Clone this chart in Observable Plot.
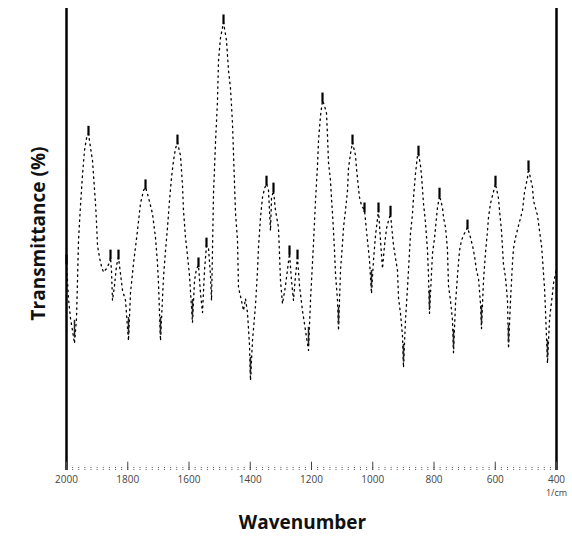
<!DOCTYPE html>
<html>
<head>
<meta charset="utf-8">
<script src="https://cdn.jsdelivr.net/npm/d3@7"></script>
<script src="https://cdn.jsdelivr.net/npm/@observablehq/plot@0.6"></script>
<style>
  html, body { margin: 0; padding: 0; background: #fff; }
  #chart { width: 572px; height: 542px; }
</style>
</head>
<body>
<div id="chart"></div>
<script>
const wavenumber = [
  2000, 1993.5, 1986.9, 1980.4, 1973.9, 1967.3, 1964.1, 1960.8, 1954.3, 1947.8,
  1941.2, 1934.7, 1928.2, 1921.6, 1915.1, 1911.8, 1905.3, 1902.0, 1898.8, 1892.2,
  1885.7, 1879.2, 1869.4, 1859.6, 1856.3, 1853.1, 1849.8, 1843.3, 1836.7, 1830.2,
  1823.7, 1817.1, 1807.3, 1797.6, 1791.0, 1781.2, 1768.2, 1758.4, 1748.6, 1742.0,
  1732.2, 1719.2, 1709.4, 1702.9, 1699.6, 1693.1, 1683.3, 1676.7, 1670.2, 1663.7,
  1657.1, 1650.6, 1644.1, 1637.6, 1627.8, 1621.2, 1618.0, 1611.4, 1604.9, 1598.4,
  1588.6, 1582.0, 1575.5, 1569.0, 1562.4, 1555.9, 1549.4, 1542.9, 1536.3, 1529.8,
  1526.5, 1523.3, 1520.0, 1516.7, 1513.5, 1506.9, 1503.7, 1497.1, 1487.3, 1477.6,
  1471.0, 1464.5, 1461.2, 1458.0, 1454.7, 1451.4, 1448.2, 1441.6, 1438.4, 1428.6,
  1422.0, 1415.5, 1409.0, 1402.4, 1399.2, 1392.7, 1382.9, 1376.3, 1373.1, 1366.5,
  1360.0, 1353.5, 1346.9, 1340.4, 1333.9, 1330.6, 1324.1, 1317.6, 1307.8, 1301.2,
  1294.7, 1284.9, 1271.8, 1265.3, 1258.8, 1252.2, 1245.7, 1239.2, 1229.4, 1219.6,
  1209.8, 1203.3, 1193.5, 1186.9, 1180.4, 1177.1, 1170.6, 1164.1, 1157.6, 1151.0,
  1147.8, 1144.5, 1138.0, 1134.7, 1131.4, 1128.2, 1124.9, 1121.6, 1115.1, 1111.8,
  1105.3, 1098.8, 1095.5, 1089.0, 1082.4, 1079.2, 1072.7, 1066.1, 1056.3, 1053.1,
  1049.8, 1043.3, 1036.7, 1026.9, 1020.4, 1010.6, 1004.1, 997.6, 991.0, 981.2,
  974.7, 968.2, 961.6, 955.1, 948.6, 942.0, 935.5, 932.2, 919.2, 915.9,
  909.4, 902.9, 899.6, 893.1, 886.5, 883.3, 876.7, 870.2, 866.9, 860.4,
  853.9, 850.6, 844.1, 840.8, 837.6, 834.3, 827.8, 821.2, 818.0, 814.7,
  804.9, 798.4, 791.8, 788.6, 782.0, 772.2, 769.0, 762.4, 759.2, 755.9,
  752.7, 746.1, 739.6, 736.3, 729.8, 723.3, 716.7, 710.2, 703.7, 690.6,
  680.8, 674.3, 667.8, 661.2, 654.7, 648.2, 644.9, 638.4, 631.8, 625.3,
  622.0, 615.5, 609.0, 599.2, 589.4, 586.1, 579.6, 576.3, 573.1, 566.5,
  560.0, 556.7, 550.2, 543.7, 540.4, 533.9, 524.1, 511.0, 504.5, 494.7,
  491.4, 484.9, 478.4, 475.1, 462.0, 455.5, 449.0, 445.7, 442.4, 439.2,
  435.9, 429.4, 422.9, 419.6, 413.1, 409.8, 403.3, 400
];
const transmittance = [
  45.0, 37.2, 32.9, 30.3, 27.5, 32.9, 41.1, 49.8, 57.4, 63.9,
  69.3, 71.9, 72.9, 69.9, 67.1, 63.9, 57.8, 53.7, 48.7, 46.1,
  44.2, 42.9, 43.7, 45.0, 46.1, 43.3, 36.8, 40.0, 44.4, 46.1,
  42.6, 39.0, 36.8, 28.1, 38.5, 44.8, 51.9, 57.8, 60.6, 61.3,
  59.1, 55.6, 50.4, 44.8, 40.5, 28.1, 41.8, 47.6, 52.6, 58.4,
  63.4, 67.1, 69.7, 71.0, 68.2, 61.7, 56.3, 50.4, 46.5, 42.2,
  32.0, 41.1, 43.7, 44.4, 38.3, 34.2, 43.3, 48.7, 48.1, 42.2,
  36.8, 47.6, 60.0, 65.4, 71.0, 80.1, 88.7, 93.7, 97.0, 93.1,
  86.6, 82.7, 79.0, 75.1, 68.6, 62.1, 55.8, 49.8, 39.6, 36.8,
  34.6, 37.2, 34.2, 27.1, 19.5, 28.1, 35.7, 43.3, 48.3, 54.8,
  59.1, 61.0, 62.1, 60.6, 51.9, 58.9, 60.6, 56.3, 52.6, 41.1,
  36.1, 40.0, 47.0, 41.1, 36.8, 42.2, 46.1, 40.0, 34.6, 30.3,
  26.0, 36.8, 49.1, 58.4, 66.0, 71.4, 76.8, 80.1, 79.0, 77.3,
  72.5, 66.7, 62.8, 58.9, 55.6, 51.9, 47.6, 42.6, 36.8, 30.3,
  43.3, 49.1, 52.6, 56.3, 60.6, 65.4, 68.6, 71.0, 68.2, 65.4,
  63.2, 59.1, 57.4, 56.3, 51.9, 45.5, 38.3, 45.5, 50.9, 56.3,
  49.8, 43.7, 48.7, 52.4, 54.1, 55.6, 50.9, 48.7, 43.3, 37.4,
  34.0, 29.2, 22.3, 32.5, 39.6, 43.3, 51.3, 55.6, 59.1, 64.3,
  68.2, 68.6, 66.0, 63.9, 61.0, 57.8, 53.7, 47.6, 42.2, 34.0,
  47.0, 50.2, 54.8, 56.9, 59.5, 56.9, 54.8, 52.6, 50.4, 47.6,
  40.0, 36.8, 32.5, 25.5, 36.1, 42.2, 47.6, 49.8, 50.9, 52.6,
  50.4, 48.7, 46.5, 43.3, 41.6, 36.1, 30.7, 41.1, 47.2, 51.9,
  54.8, 57.8, 59.5, 62.1, 58.9, 56.3, 51.9, 48.1, 44.6, 41.8,
  36.8, 26.4, 36.8, 45.0, 48.1, 50.4, 53.0, 56.3, 60.2, 63.4,
  65.4, 63.2, 61.3, 58.4, 55.2, 51.9, 48.7, 45.9, 42.6, 39.6,
  34.6, 23.2, 32.5, 34.6, 38.3, 40.5, 42.6, 43.7
];
const peakWavenumbers = [2000, 1928.2, 1856.3, 1830.2, 1742.0, 1637.6, 1569.0, 1542.9, 1487.3,
  1346.9, 1324.1, 1271.8, 1245.7, 1164.1, 1066.1, 1026.9, 981.2, 942.0, 850.6, 782.0, 690.6, 599.2, 491.4];
const troughWavenumbers = [1973.9, 1797.6, 1693.1, 1588.6, 1399.2, 1209.8, 1111.8, 1004.1, 899.6,
  814.7, 736.3, 644.9, 556.7, 429.4];
const majorTicks = [2000, 1800, 1600, 1400, 1200, 1000, 800, 600, 400];
const minorTicks = d3.range(400, 2001, 20);
const xUnit = "1/cm";
const xTitle = "Wavenumber";
const yTitle = "Transmittance (%)";

const data = wavenumber.map((w, i) => ({w, t: transmittance[i]}));
const tAt = w => transmittance[wavenumber.indexOf(w)];
const peaks = peakWavenumbers.map(w => ({w, t: tAt(w)}));
const troughs = troughWavenumbers.map(w => ({w, t: tAt(w)}));

const chart = Plot.plot({
  width: 572,
  height: 542,
  marginLeft: 66,
  marginRight: 16,
  marginTop: 8,
  marginBottom: 72,
  style: {background: "#fff", fontFamily: "'Open Sans', sans-serif"},
  x: {domain: [2000, 400]},
  y: {domain: [0, 100], axis: null},
  marks: [
    Plot.ruleX([2000, 400], {stroke: "#000", strokeWidth: 2.5}),
    Plot.ruleX(minorTicks, {y1: 0, y2: 0.9, stroke: "#555", strokeWidth: 1, strokeDasharray: "1,1"}),
    Plot.ruleX(majorTicks, {y1: 0, y2: 1.8, stroke: "#444", strokeWidth: 1}),
    Plot.line(data, {x: "w", y: "t", stroke: "#000", strokeWidth: 1.3, strokeDasharray: "1.5,4"}),
    Plot.ruleX(troughs, {x: "w", y1: d => d.t + 1.2, y2: d => d.t + 5, stroke: "#222", strokeWidth: 1.5}),
    Plot.ruleX(peaks, {x: "w", y1: d => d.t - 0.5, y2: d => d.t + 1.6, stroke: "#000", strokeWidth: 2.2}),
    Plot.axisX(majorTicks, {tickSize: 0, tickPadding: 5, fontSize: 10, fill: "#444", tickFormat: d => String(d), label: null}),
    Plot.text([xUnit], {frameAnchor: "bottom-right", dy: 25, textAnchor: "middle", fontSize: 9, fill: "#444"}),
    Plot.text([xTitle], {frameAnchor: "bottom", dx: -9, dy: 58, fontSize: 19, fontWeight: "bold", fill: "#111", style: "letter-spacing:1.8px"}),
    Plot.text([yTitle], {frameAnchor: "left", textAnchor: "middle", dx: -28, dy: -6, rotate: -90, fontSize: 19, fontWeight: "bold", fill: "#111", style: "letter-spacing:1.6px"})
  ]
});
document.getElementById("chart").appendChild(chart);
</script>
</body>
</html>
